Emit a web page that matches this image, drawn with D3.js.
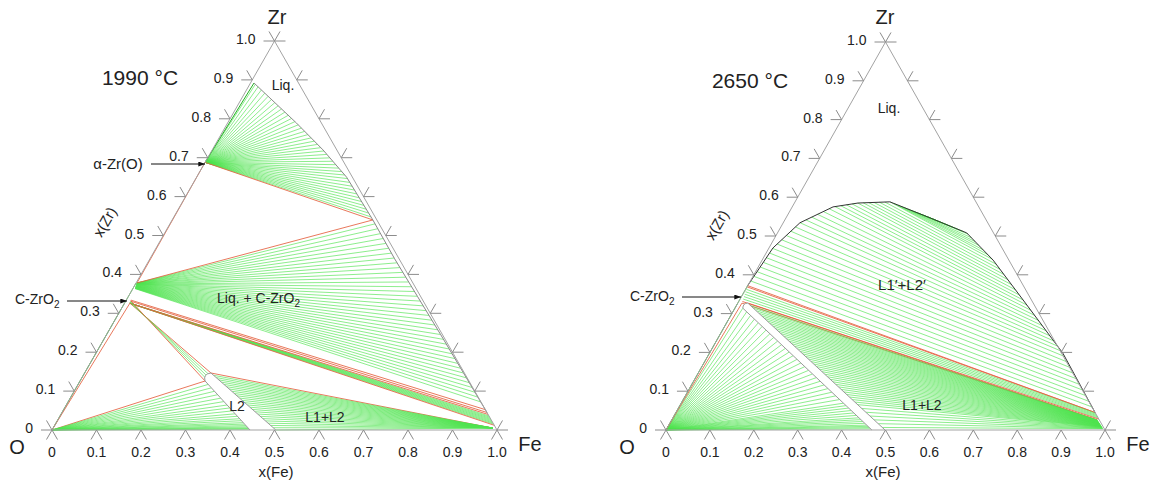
<!DOCTYPE html>
<html><head><meta charset="utf-8">
<script src="https://cdn.jsdelivr.net/npm/d3@7"></script>
<style>
body{margin:0;background:#fff}
text{font-family:"Liberation Sans",Arial,sans-serif;fill:#222}
</style>
</head><body>
<svg id="c" width="1159" height="484"></svg>
<script>
// ================= DATA (ternary compositions: [x(Fe), x(Zr)]) =================
const tickValues = [0,0.1,0.2,0.3,0.4,0.5,0.6,0.7,0.8,0.9,1.0];
const tickLabels = ["0","0.1","0.2","0.3","0.4","0.5","0.6","0.7","0.8","0.9","1.0"];
const vertexLabels = ["O","Fe","Zr"];

// ---- 1990 °C ----
const L_alphaZr   = [0.0, 0.688];
const L_liquidusA = [[0.008,0.892],[0.155,0.789],[0.249,0.72],[0.337,0.65],[0.451,0.54]];
const L_liquidusB = [[0.451,0.54],[0.55,0.44],[0.65,0.343],[0.75,0.246],[0.85,0.148],[0.955,0.045]];
const L_zro2      = [[0.002,0.378],[0.012,0.326]];
const L_l2Left    = [[0.281,0.126],[0.445,0]];
const L_l2Right   = [[0.284,0.1465],[0.503,0]];
const L_l2Cap     = [[0.284,0.1465],[0.281,0.126]];
const L_l1Corner  = [0.988,0.005];
const L_fanA = [0.01,0.03,0.055,0.08,0.105,0.13,0.155,0.18,0.205,0.23,0.255,0.28,0.305,0.33,0.355,0.38,0.405,0.43,0.455,0.48,0.505,0.53,0.555,0.58,0.605,0.63,0.655,0.68,0.705,0.73,0.755,0.78,0.805,0.83,0.855,0.88,0.905,0.93,0.955,0.98];
const L_fanB = [[0,0.02],[0,0.045],[0,0.07],[0,0.095],[0.01,0.12],[0.01,0.145],[0.02,0.17],[0.02,0.195],[0.03,0.22],[0.03,0.245],[0.04,0.27],[0.04,0.295],[0.05,0.32],[0.05,0.345],[0.06,0.37],[0.06,0.395],[0.07,0.42],[0.08,0.445],[0.09,0.47],[0.1,0.495],[0.11,0.52],[0.12,0.545],[0.13,0.57],[0.14,0.595],[0.15,0.62],[0.16,0.645],[0.17,0.67],[0.18,0.695],[0.19,0.72],[0.2,0.745],[0.21,0.77],[0.22,0.795],[0.23,0.82],[0.24,0.845],[0.25,0.87],[0.26,0.895],[0.27,0.92],[0.28,0.945]];
const L_fanCgreen = [0.036,0.033,0.030,0.027,0.024,0.021,0.018,0.015];
const L_fanCred   = [0.04,0.012];
const L_fanD = [[1,0],[0.97,0.25],[0.94,0.5],[0.91,0.75],[0.88,1]];
const L_fanE = [0,0.07,0.14,0.21,0.28,0.35,0.42,0.49,0.55,0.61,0.67,0.72,0.77,0.81,0.85,0.88,0.91,0.935,0.955,0.97,0.985];
const L_fanF = [0,0.04,0.08,0.12,0.16,0.2,0.24,0.28,0.32,0.36,0.4,0.44,0.48,0.52,0.56,0.6,0.64,0.68,0.72,0.76,0.8,0.84,0.88,0.92,0.96,1];

// ---- 2650 °C ----
const R_zro2      = [[0.0,0.369],[0.0095,0.327]];
const R_domeLeft  = [[0.0,0.372],[0.009,0.469],[0.038,0.534],[0.093,0.575],[0.145,0.585],[0.216,0.588],[0.33,0.546]];
const R_domeRight = [[0.955,0.045],[0.805,0.198],[0.646,0.335],[0.526,0.438],[0.431,0.508],[0.33,0.546]];
const R_bandLeft  = [[0.018,0.314],[0.469,0]];
const R_bandRight = [[0.023,0.327],[0.499,0]];
const R_l1Ends    = [[0.969,0.026],[0.994,0.003]];
const R_domeS = [0,0.025,0.05,0.075,0.1,0.125,0.15,0.175,0.2,0.225,0.25,0.275,0.3,0.325,0.35,0.375,0.4,0.425,0.45,0.475,0.5,0.525,0.55,0.575,0.6,0.625,0.65,0.675,0.7,0.725,0.75,0.775,0.8,0.82,0.84,0.86,0.88,0.9,0.915,0.93,0.945,0.96,0.97,0.98,0.99];
const R_fanA = [0,0.03,0.06,0.09,0.12,0.15,0.18,0.21,0.24,0.27,0.3,0.33,0.36,0.39,0.42,0.45,0.48,0.51,0.54,0.57,0.6,0.63,0.66,0.69,0.72,0.75,0.78,0.8,0.82,0.84,0.86,0.88,0.9,0.915,0.93,0.945,0.96,0.97,0.98,0.99];
const R_fanB = [0,0.02,0.04,0.06,0.08,0.1,0.12,0.14,0.16,0.18,0.2,0.22,0.24,0.26,0.28,0.3,0.32,0.34,0.36,0.38,0.4,0.42,0.44,0.46,0.48,0.5,0.52,0.54,0.56,0.58,0.6,0.62,0.64,0.66,0.68,0.7,0.72,0.74,0.76,0.78,0.8,0.83,0.86,0.89,0.92,0.95,0.98];
const R_fanC = [[0.15,0.043],[0.3,0.04],[0.45,0.037],[0.6,0.034],[0.75,0.031]];

// ================= DRAWING =================
const GREEN = "#4fe34f", EDGEGREEN = "#22b022", RED = "#e4603f", GRAY = "#a3a3a3", DARK = "#333";
const svg = d3.select("#c");
svg.append("rect").attr("width",1159).attr("height",484).attr("fill","#fff");
svg.append("defs").append("marker").attr("id","arr").attr("viewBox","0 0 8 6")
  .attr("refX",8).attr("refY",3).attr("markerWidth",7).attr("markerHeight",5)
  .attr("markerUnits","userSpaceOnUse").attr("orient","auto")
  .append("path").attr("d","M0,0L8,3L0,6Z").attr("fill","#111");

function lerp(a,b,t){return [a[0]+(b[0]-a[0])*t, a[1]+(b[1]-a[1])*t];}
function along(poly,t){
  const d=[]; let tot=0;
  for(let i=0;i<poly.length-1;i++){const s=Math.hypot(poly[i+1][0]-poly[i][0],poly[i+1][1]-poly[i][1]); d.push(s); tot+=s;}
  let r=t*tot;
  for(let i=0;i<d.length;i++){
    if(r<=d[i]||i===d.length-1){return lerp(poly[i],poly[i+1],d[i]?Math.min(1,r/d[i]):0);}
    r-=d[i];
  }
}

function diagram(xr, yr){
  const g = svg.append("g");
  const sx = d3.scaleLinear().domain([0,1]).range(xr);
  const sy = d3.scaleLinear().domain([0,1]).range(yr);
  const P = c => [sx(c[0]+c[1]/2), sy(c[1])];
  const line = d3.line().x(d=>P(d)[0]).y(d=>P(d)[1]);
  const layer = g.append("g");
  const tie = (a,b,col,w) => layer.append("path").attr("d",line([a,b])).attr("fill","none")
      .attr("stroke",col).attr("stroke-width",w|| (col===GREEN?0.65:0.85));
  const curve = (pts,col,w) => g.append("path").attr("d",line(pts)).attr("fill","none").attr("stroke",col).attr("stroke-width",w||1);
  return {g,P,line,tie,curve,sx,sy};
}

function band(D, left, right, capCtl){
  const l0=D.P(left[0]), l1=D.P(left[1]), r0=D.P(right[0]), r1=D.P(right[1]), c=D.P(capCtl);
  D.g.append("path").attr("d",`M${l1}L${l0}Q${c} ${r0}L${r1}`).attr("fill","#fff")
    .attr("stroke","#999").attr("stroke-width",1);
}

function frame(D){
  const V=[[0,0],[1,0],[0,1]];
  D.g.append("path").attr("d",D.line([V[0],V[1],V[2],V[0]])).attr("fill","none").attr("stroke",GRAY).attr("stroke-width",1);
  const TL=11;
  const seg=(x1,y1,x2,y2)=>D.g.append("line").attr("x1",x1).attr("y1",y1).attr("x2",x2).attr("y2",y2).attr("stroke","#8c8c8c").attr("stroke-width",1);
  tickValues.forEach((v,i)=>{
    let [x,y]=D.P([v,0]);
    seg(x,y,x-TL*0.5,y+TL*0.866); seg(x,y,x+TL*0.5,y+TL*0.866);
    D.g.append("text").attr("x",x).attr("y",y+27).attr("text-anchor","middle").attr("font-size",14).text(tickLabels[i]);
    [x,y]=D.P([0,v]);
    seg(x,y,x-TL,y); seg(x,y,x-TL*0.5,y-TL*0.866);
    D.g.append("text").attr("x",x-19).attr("y",y+3).attr("text-anchor","end").attr("font-size",14).text(tickLabels[i]);
    [x,y]=D.P([1-v,v]);
    seg(x,y,x+TL,y); seg(x,y,x+TL*0.5,y-TL*0.866);
  });
}

function txt(x,y,s,size,anchor){return svg.append("text").attr("x",x).attr("y",y).attr("font-size",size).attr("text-anchor",anchor||"start").text(s);}
function zro2Label(x,y){
  const t=svg.append("text").attr("x",x).attr("y",y).attr("font-size",14);
  t.append("tspan").text("C-ZrO");
  t.append("tspan").attr("font-size",10).attr("dy",4).text("2");
  return t;
}
function arrow(x1,y1,x2,y2){svg.append("line").attr("x1",x1).attr("y1",y1).attr("x2",x2).attr("y2",y2).attr("stroke","#111").attr("stroke-width",1).attr("marker-end","url(#arr)");}

// ---------------- Left: 1990 °C ----------------
{
  const D = diagram([52,497],[430,41]);
  L_fanA.forEach(t=>D.tie(L_alphaZr, along(L_liquidusA,t), GREEN));
  D.tie(L_alphaZr, L_liquidusA[L_liquidusA.length-1], RED);
  D.tie(L_alphaZr, L_zro2[0], RED);
  D.tie([0,0.69],[0.008,0.892],EDGEGREEN,1);
  L_fanB.forEach(([o,e])=>D.tie(along(L_zro2,o), along(L_liquidusB,e), GREEN));
  D.tie(L_zro2[0], L_liquidusB[0], RED);
  D.tie(along(L_zro2,0.85), along(L_liquidusB,0.985), RED);
  D.tie(along(L_zro2,0.9), along(L_liquidusB,1), RED);
  L_fanCgreen.forEach(z=>D.tie(L_zro2[1],[1-z,z],GREEN));
  L_fanCred.forEach(z=>D.tie(L_zro2[1],[1-z,z],RED));
  L_fanD.forEach(([o,c],i)=>D.tie(along(L_zro2,o), along(L_l2Cap,c), (i===0||i===L_fanD.length-1)?RED:GREEN));
  L_fanE.forEach((t,i)=>D.tie([0,0], along(L_l2Left,t), i===0?RED:GREEN));
  L_fanF.forEach((t,i)=>D.tie(along(L_l2Right,t), L_l1Corner, i===0?RED:GREEN));
  D.tie([0,0],[0,0.326],EDGEGREEN,1);
  D.tie([0,0],L_zro2[1],RED);
  D.tie([0,0.326],[0,0.378],GREEN,1);
  D.curve(L_liquidusA,"#8a8a8a",1);
  D.curve(L_liquidusB,"#888",1);
  band(D, L_l2Left, L_l2Right, [0.267,0.144]);
  frame(D);
}
// ---------------- Right: 2650 °C ----------------
{
  const D = diagram([666,1105],[430,42]);
  R_domeS.forEach((s,i)=>D.tie(along(R_domeLeft,s), along(R_domeRight,s), i===0?RED:GREEN));
  D.tie(R_zro2[0], R_domeRight[0], RED);
  R_fanC.forEach(([o,z])=>D.tie(along(R_zro2,o),[1-z,z],GREEN));
  D.tie(along(R_zro2,0.9),[0.972,0.028],RED);
  D.tie(R_zro2[1], R_l1Ends[0], RED);
  R_fanA.forEach(t=>D.tie([0,0], along(R_bandLeft,t), GREEN));
  R_fanB.forEach((t,i)=>D.tie(along(R_bandRight,t), along(R_l1Ends,t), i===0?RED:GREEN));
  D.tie([0,0],[0,0.327],EDGEGREEN,1);
  D.tie([0,0],R_zro2[1],RED);
  D.tie([0,0.327],[0,0.372],GREEN,1);
  D.curve(R_domeLeft.concat(R_domeRight.slice().reverse().slice(1)),DARK,1);
  band(D, R_bandLeft, R_bandRight, [0.012,0.327]);
  frame(D);
}

// ---------------- Text ----------------
txt(277,24,"Zr",20,"middle");
txt(17,454,"O",20,"middle");
txt(530,451,"Fe",20,"middle");
txt(885,24,"Zr",20,"middle");
txt(627,454,"O",20,"middle");
txt(1138,451,"Fe",20,"middle");
txt(140,85,"1990 °C",21,"middle");
txt(750,88,"2650 °C",21,"middle");
txt(276,477,"x(Fe)",15,"middle");
txt(883,477,"x(Fe)",15,"middle");
svg.append("text").attr("font-size",15).attr("text-anchor","middle").attr("transform","translate(105,222) rotate(-60)").attr("dy",5).text("x(Zr)");
svg.append("text").attr("font-size",15).attr("text-anchor","middle").attr("transform","translate(717,225) rotate(-60)").attr("dy",5).text("x(Zr)");
txt(118,169,"α-Zr(O)",15,"middle");
arrow(151,164,205,164);
zro2Label(15,304);
arrow(67,301,127,301);
zro2Label(630,301);
arrow(682,297,741,297);
txt(283,90,"Liq.",14,"middle");
const lz = svg.append("text").attr("x",217).attr("y",303).attr("font-size",14);
lz.append("tspan").text("Liq. + C-ZrO"); lz.append("tspan").attr("font-size",10).attr("dy",4).text("2");
txt(237,411,"L2",14,"middle");
txt(325,422,"L1+L2",14,"middle");
txt(889,113,"Liq.",14,"middle");
txt(902,290,"L1\u2032+L2\u2032",15,"middle");
txt(922,410,"L1+L2",14,"middle");
</script>
</body></html>
